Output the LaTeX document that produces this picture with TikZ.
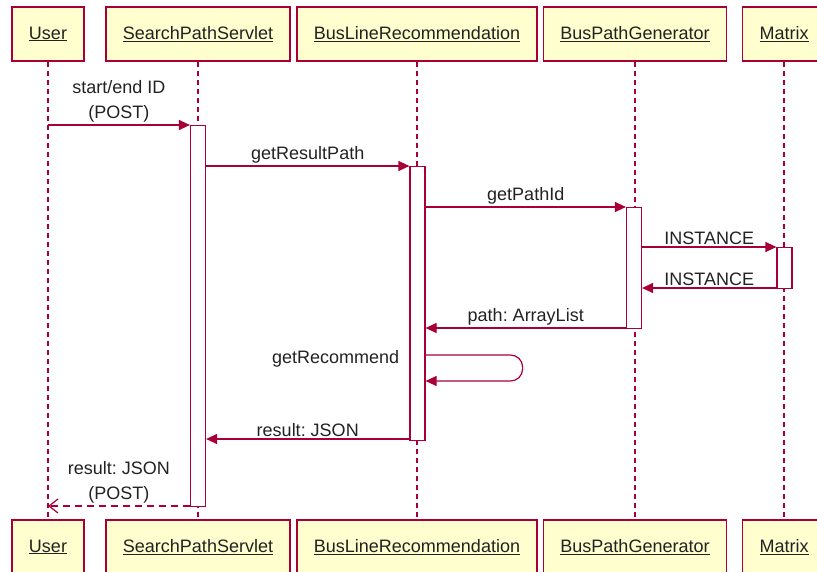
\documentclass[tikz,border=0pt]{standalone}
\usepackage{fontspec}
\setmainfont{Liberation Sans}
\usetikzlibrary{
  positioning,
  arrows.meta,
  calc
}
\definecolor{umlred}{HTML}{A80036}
\definecolor{umlfill}{HTML}{FEFECE}
\definecolor{umltext}{HTML}{222222}
\frenchspacing

\begin{document}
\begin{tikzpicture}[
  x=1pt, y=-1pt,
  actor/.style={draw=umlred, line width=1.5pt, fill=umlfill, minimum height=54pt,
                inner xsep=17pt, text=umltext, font=\fontsize{18}{22}\selectfont},
  act/.style={draw=umlred, line width=1.2pt, fill=white, minimum width=15pt,
              anchor=north, inner sep=0pt},
  life/.style={draw=umlred, line width=1.3pt, dash pattern=on 5pt off 4pt},
  msg/.style={draw=umlred, line width=1.2pt, -{Triangle[length=11pt,width=10pt]}},
  ret/.style={draw=umlred, line width=1.2pt, dash pattern=on 7pt off 5pt,
              -{Straight Barb[length=9pt,width=14pt,line width=1.2pt]}},
  lbl/.style={text=umltext, inner sep=2pt, align=center,
              font=\fontsize{18}{25}\selectfont}
]
  \useasboundingbox (0,0) rectangle (817,571);

  % participants, top row
  \node[actor] (tUser) at (48,34) {\underline{User}};
  \node[actor] (tSPS)  at (198,34) {\underline{SearchPathServlet}};
  \node[actor] (tBLR)  at (417,34) {\underline{BusLineRecommendation}};
  \node[actor] (tBPG)  at (635,34) {\underline{BusPathGenerator}};
  \node[actor] (tMX)   at (784,34) {\underline{Matrix}};

  % participants, bottom row
  \node[actor] (bUser) at (48,547) {\underline{User}};
  \node[actor] (bSPS)  at (198,547) {\underline{SearchPathServlet}};
  \node[actor] (bBLR)  at (417,547) {\underline{BusLineRecommendation}};
  \node[actor] (bBPG)  at (635,547) {\underline{BusPathGenerator}};
  \node[actor] (bMX)   at (784,547) {\underline{Matrix}};

  % lifelines
  \foreach \p in {User,SPS,BLR,BPG,MX}
    \draw[life] (t\p.south) -- (b\p.north);

  % activations
  \node[act, minimum height=381pt] (aSPS) at (198,125) {};
  \node[act, minimum height=274pt] (aBLR) at (417.5,166) {};
  \node[act, minimum height=121pt] (aBPG) at (634,207) {};
  \node[act, minimum height=41pt]  (aMX)  at (784.5,247) {};

  % message rows
  \coordinate (m4) at (0,288);
  \coordinate (m5) at (0,328);
  \coordinate (m6) at (0,355);
  \coordinate (m7) at (0,381);
  \coordinate (m8) at (0,439);
  \coordinate (m9) at (0,506);

  % calls
  \draw[msg] (tUser |- aSPS.north) -- node[lbl, above] {start/end ID\\(POST)} (aSPS.north west);
  \draw[msg] (aSPS.east |- aBLR.north) -- node[lbl, above] {getResultPath} (aBLR.north west);
  \draw[msg] (aBLR.east |- aBPG.north) -- node[lbl, above] {getPathId} (aBPG.north west);
  \draw[msg] (aBPG.east |- aMX.north) -- node[lbl, above] {INSTANCE} (aMX.north west);
  \draw[msg] (aMX.west |- m4) -- node[lbl, above] {INSTANCE} (aBPG.east |- m4);
  \draw[msg] (aBPG.west |- m5) -- node[lbl, above] {path: ArrayList} (aBLR.east |- m5);

  % self call
  \draw[msg, rounded corners=12pt] (aBLR.east |- m6) -- ++(97,0) -- ++(0,26) -- (aBLR.east |- m7);
  \node[lbl, anchor=base east] (recLbl) at ($(aBLR.west |- 0,363)+(-8,0)$) {getRecommend};

  % returns
  \draw[msg] (aBLR.west |- m8) -- node[lbl, above] {result: JSON} (aSPS.east |- m8);
  \draw[ret] (aSPS.west |- m9) -- node[lbl, above] {result: JSON\\(POST)} (tUser |- m9);
\end{tikzpicture}
\end{document}
